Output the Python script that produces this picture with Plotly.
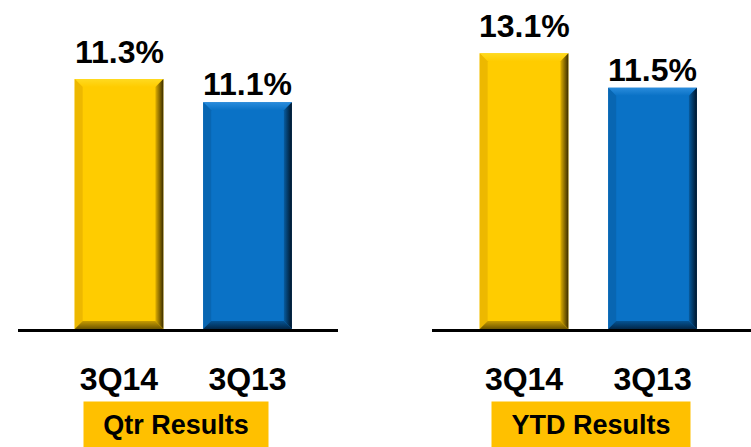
import plotly.graph_objects as go

# ---- data ----
categories = ["3Q14", "3Q13"]
qtr_values = [11.3, 11.1]
ytd_values = [13.1, 11.5]
qtr_labels = ["11.3%", "11.1%"]
ytd_labels = ["13.1%", "11.5%"]
panel_titles = ["Qtr Results", "YTD Results"]

W, H = 751, 447
PLOT_H = 329  # plot area height in px (top margin 0)

FONT = "Liberation Sans, Arial, sans-serif"

PALETTE = [
    dict(face="#FFCC00", top="#FFDA20", left="#EDB800", r0="#E0B000", r1="#3A2C00", b0="#C89C00", b1="#6E5600"),
    dict(face="#0A72C6", top="#2A8CDC", left="#0866B2", r0="#075CA0", r1="#001428", b0="#055494", b1="#02284A"),
]

y_ranges = [[9.154, 11.978], [0.277, 15.579]]
x_ranges = [[-0.786, 1.704], [-0.716, 1.766]]
x_domains = [[18 / W, 338 / W], [432 / W, 1.0]]
BAR_W = 0.69
BEVEL_PX = 8

xpos = list(range(len(categories)))

fig = go.Figure()

panels = [(qtr_values, qtr_labels), (ytd_values, ytd_labels)]
for p, (vals, labs) in enumerate(panels):
    xa = "x" if p == 0 else "x2"
    ya = "y" if p == 0 else "y2"
    y0, y1 = y_ranges[p]
    x0r, x1r = x_ranges[p]
    px_per_x = (x_domains[p][1] - x_domains[p][0]) * W / (x1r - x0r)
    px_per_y = PLOT_H / (y1 - y0)
    dx = BEVEL_PX / px_per_x
    dy = BEVEL_PX / px_per_y
    base = y0

    fig.add_trace(go.Bar(
        x=xpos, y=[v - base for v in vals], base=base,
        width=BAR_W,
        marker=dict(color=[PALETTE[i]["face"] for i in range(len(vals))], line=dict(width=0)),
        xaxis=xa, yaxis=ya, showlegend=False, hoverinfo="skip",
    ))

    for i, v in enumerate(vals):
        c = PALETTE[i]
        xl, xr = xpos[i] - BAR_W / 2, xpos[i] + BAR_W / 2
        top, bot = v, base
        polys = [
            ([xl, xr, xr - dx, xl + dx, xl], [top, top, top - dy, top - dy, top], c["top"],
             dict(type="vertical", colorscale=[[0, c["face"]], [1, c["top"]]])),
            ([xl, xl + dx, xl + dx, xl, xl], [top, top - dy, bot + dy, bot, top], c["left"], None),
            ([xr, xr - dx, xr - dx, xr, xr], [top, top - dy, bot + dy, bot, top], c["r0"],
             dict(type="horizontal", colorscale=[[0, c["r0"]], [1, c["r1"]]])),
            ([xl, xr, xr - dx, xl + dx, xl], [bot, bot, bot + dy, bot + dy, bot], c["b0"],
             dict(type="vertical", colorscale=[[0, c["b1"]], [1, c["b0"]]])),
        ]
        for xs, ys, fc, grad in polys:
            kw = dict(x=xs, y=ys, mode="lines", fill="toself", fillcolor=fc, line=dict(width=0),
                      xaxis=xa, yaxis=ya, showlegend=False, hoverinfo="skip")
            if grad is not None:
                kw["fillgradient"] = grad
            fig.add_trace(go.Scatter(**kw))

    shifts = [7, -2]
    for i, (v, t) in enumerate(zip(vals, labs)):
        fig.add_annotation(x=xpos[i], y=v, xref=xa, yref=ya, text="<b>" + t + "</b>", showarrow=False,
                           yanchor="bottom", yshift=shifts[i],
                           font=dict(family=FONT, size=32, color="#000000"))

layout_axes = {}
for p in range(2):
    sfx = "" if p == 0 else "2"
    layout_axes["xaxis" + sfx] = dict(
        domain=x_domains[p], range=x_ranges[p],
        anchor="y" + sfx, showgrid=False, zeroline=False,
        showline=True, linecolor="#000000", linewidth=2.5,
        ticks="", ticklabelstandoff=20,
        tickvals=xpos, ticktext=["<b>" + c + "</b>" for c in categories],
        tickfont=dict(family=FONT, size=32, color="#000000"),
        fixedrange=True,
    )
    layout_axes["yaxis" + sfx] = dict(
        domain=[0, 1], range=y_ranges[p], anchor="x" + sfx,
        visible=False, showgrid=False, zeroline=False, fixedrange=True,
    )

fig.update_layout(
    width=W, height=H,
    margin=dict(l=0, r=0, t=0, b=H - PLOT_H),
    plot_bgcolor="#FFFFFF", paper_bgcolor="#FFFFFF",
    **layout_axes,
)

box_specs = [(176 / W, 184), (591 / W, 198)]
for (cx, bw), title in zip(box_specs, panel_titles):
    fig.add_annotation(x=cx, y=-(401 - PLOT_H) / PLOT_H, xref="paper", yref="paper",
                       xanchor="center", yanchor="top", text="<b>" + title + "</b>", showarrow=False,
                       width=bw, height=46, borderpad=0, bgcolor="#FFC000",
                       valign="middle",
                       font=dict(family=FONT, size=27, color="#000000"))

fig.write_html("out.html", config={"displayModeBar": False},
               post_script="document.body.style.margin='0';")
